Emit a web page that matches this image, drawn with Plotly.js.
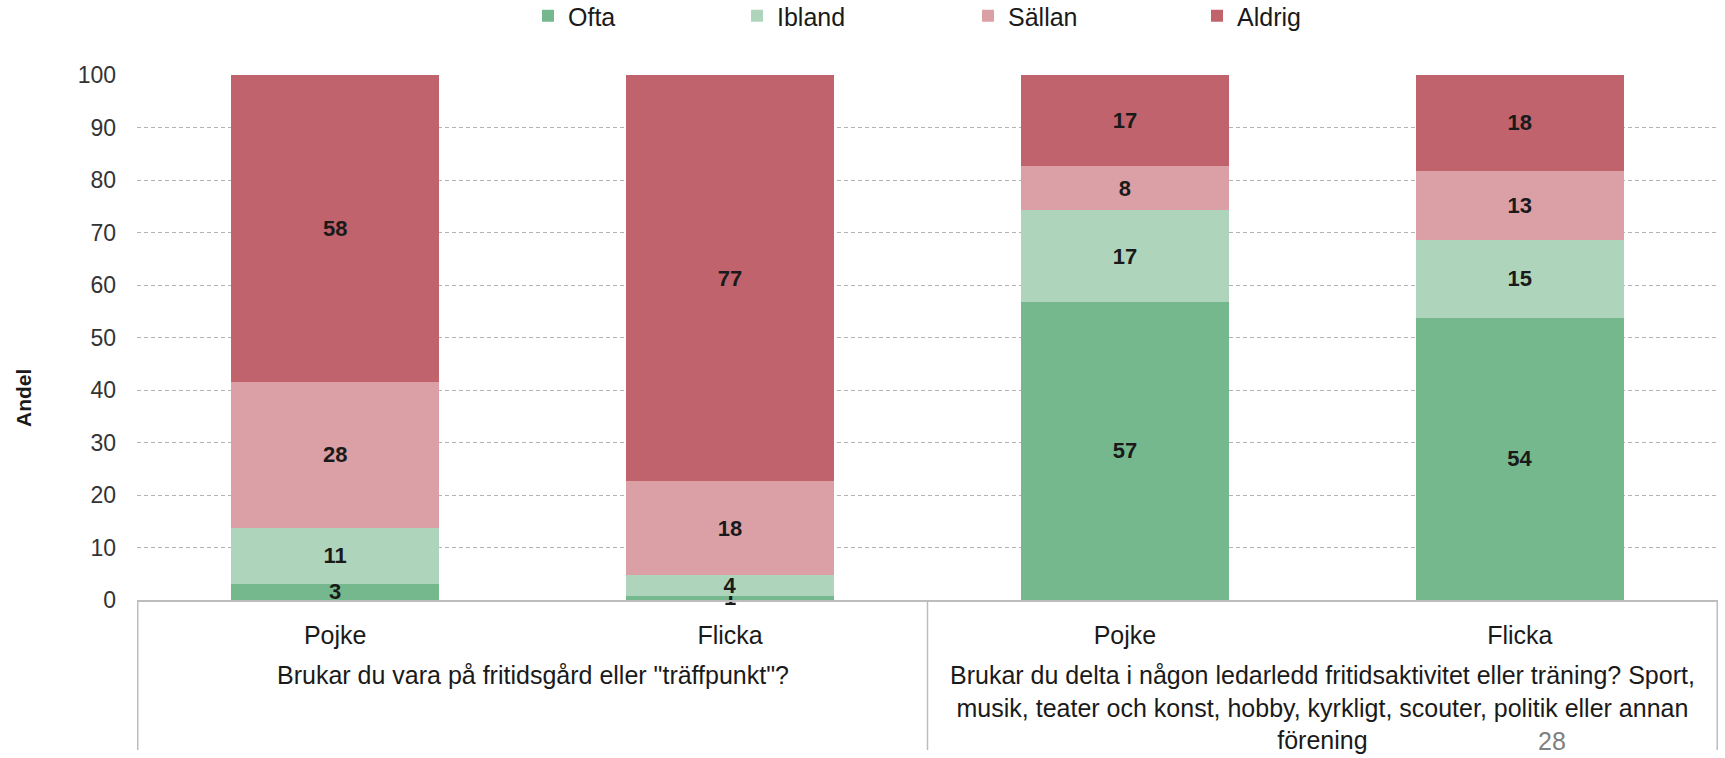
<!DOCTYPE html>
<html>
<head>
<meta charset="utf-8">
<script src="https://cdn.plot.ly/plotly-3.0.1.min.js"></script>
<style>
  body { margin: 0; background: #fff; }
  #chart { width: 1725px; height: 758px; }
</style>
</head>
<body>
<div id="chart"></div>
<script>
// Andel per svar, två frågor, pojke/flicka
const questions = [
    'Brukar du vara på fritidsgård eller "träffpunkt"?',
    'Brukar du delta i någon ledarledd fritidsaktivitet eller träning? Sport,<br>musik, teater och konst, hobby, kyrkligt, scouter, politik eller annan<br>förening'
];
// one bar per question and gender
const barKeys = ['q1-pojke', 'q1-flicka', 'q2-pojke', 'q2-flicka'];
const barLabels = ['Pojke', 'Flicka', 'Pojke', 'Flicka'];
const groupCenters = [0.5, 2.5];
const groupEdges = [-0.5, 1.5, 3.5];

const seriesNames = ['Ofta', 'Ibland', 'Sällan', 'Aldrig'];
const seriesColors = ['#75b88e', '#aed5bb', '#dba0a6', '#c0636d'];

const ofta   = [3.1, 0.8, 56.8, 53.8];
const ibland = [10.6, 3.9, 17.4, 14.7];
const sallan = [27.9, 17.9, 8.4, 13.3];
const aldrig = [58.4, 77.4, 17.4, 18.2];

const values = [ofta, ibland, sallan, aldrig];
// where each legend text starts (px)
const legendTextX = [568, 777, 1008, 1237];

const FONT = 'Liberation Sans, Arial, sans-serif';
const plotLeft = 137, plotWidth = 1581, plotTop = 75, plotHeight = 525;
const pxX = px => (px - plotLeft) / plotWidth;
const pxY = py => (plotTop + plotHeight - py) / plotHeight;

const traces = values.map(function(v, i) {
    return {
        type: 'bar',
        name: seriesNames[i],
        x: barKeys,
        y: v,
        marker: {color: seriesColors[i]},
        texttemplate: '%{y:.0f}',
        textposition: 'inside',
        insidetextanchor: 'middle',
        constraintext: 'none',
        cliponaxis: false,
        textangle: 0,
        textfont: {family: FONT, size: 22, color: '#1a1a1a', weight: 'bold'},
        hoverinfo: 'none',
        legend: i === 0 ? 'legend' : 'legend' + (i + 1)
    };
});

function legendAt(px) {
    return {
        orientation: 'h',
        x: pxX(px - 40),
        xanchor: 'left',
        y: pxY(-7),
        yanchor: 'top',
        bgcolor: 'rgba(0,0,0,0)',
        font: {family: FONT, size: 25, color: '#1a1a1a'}
    };
}

// box lines under the axis, around each question
const shapes = groupEdges.map(function(xe) {
    return {
        type: 'line', xref: 'x', yref: 'paper',
        x0: xe, x1: xe, y0: 0, y1: pxY(750),
        line: {color: '#bdbdbd', width: 1.5}
    };
});

const annotations = questions.map(function(q, i) {
    return {
        text: q,
        xref: 'x', yref: 'paper',
        x: groupCenters[i], y: pxY(659),
        xanchor: 'center', yanchor: 'top',
        align: 'center',
        showarrow: false,
        font: {family: FONT, size: 25, color: '#1a1a1a'}
    };
});
annotations.push({
    text: '<b>Andel</b>',
    xref: 'paper', yref: 'paper',
    x: pxX(23), y: pxY(398),
    xanchor: 'center', yanchor: 'middle',
    textangle: -90,
    showarrow: false,
    font: {family: FONT, size: 21, color: '#1a1a1a'}
});
annotations.push({
    text: '28',
    xref: 'paper', yref: 'paper',
    x: pxX(1552), y: pxY(741),
    xanchor: 'center', yanchor: 'middle',
    showarrow: false,
    font: {family: 'Liberation Sans Narrow, Arial, sans-serif', size: 25, color: '#808080'}
});

const layout = {
    width: 1725,
    height: 758,
    margin: {l: plotLeft, r: 1725 - plotLeft - plotWidth, t: plotTop, b: 758 - plotTop - plotHeight, autoexpand: false},
    paper_bgcolor: '#ffffff',
    plot_bgcolor: '#ffffff',
    barmode: 'stack',
    bargap: 0.473,
    font: {family: FONT, color: '#1a1a1a'},
    showlegend: true,
    legend: legendAt(legendTextX[0]),
    legend2: legendAt(legendTextX[1]),
    legend3: legendAt(legendTextX[2]),
    legend4: legendAt(legendTextX[3]),
    xaxis: {
        type: 'category',
        tickmode: 'array',
        tickvals: barKeys,
        ticktext: barLabels,
        showline: true,
        linecolor: '#bdbdbd',
        linewidth: 1.5,
        ticks: '',
        ticklabelstandoff: 12,
        tickfont: {size: 25, color: '#1a1a1a'},
        showgrid: false
    },
    yaxis: {
        range: [0, 100],
        dtick: 10,
        ticks: '',
        ticklabelstandoff: 20,
        tickfont: {size: 23, color: '#333333'},
        showgrid: true,
        gridcolor: '#b3b3b3',
        griddash: '4px,3px',
        gridwidth: 1,
        zeroline: false,
        showline: false
    },
    shapes: shapes,
    annotations: annotations
};

Plotly.newPlot('chart', traces, layout, {displayModeBar: false, staticPlot: true});
</script>
</body>
</html>
